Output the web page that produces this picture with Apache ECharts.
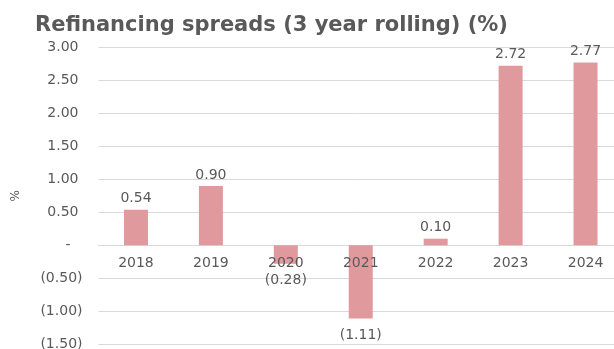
<!DOCTYPE html>
<html>
<head>
<meta charset="utf-8">
<script src="https://cdn.jsdelivr.net/npm/echarts@6/dist/echarts.min.js"></script>
<style>
  html, body { margin: 0; padding: 0; background: #fff; }
  #chart { width: 614px; height: 349px; }
</style>
</head>
<body>
<div id="chart"></div>
<script>
// Refinancing spreads, 3-year rolling, in percent
const years = ['2018', '2019', '2020', '2021', '2022', '2023', '2024'];
const spreads = [0.54, 0.90, -0.28, -1.11, 0.10, 2.72, 2.77];

// Accounting-style number: negatives in parentheses, zero as a dash
function fmt(v) {
  if (Math.abs(v) < 1e-9) return '-';
  const s = Math.abs(v).toFixed(2);
  return v < 0 ? '(' + s + ')' : s;
}

// Same format for the value axis, with positives and the dash kept
// clear of the closing-parenthesis column
function axisFmt(v) {
  if (Math.abs(v) < 1e-9) return '{z|-}';
  return v < 0 ? fmt(v) : '{p|' + fmt(v) + '}';
}

const textColor = '#595959';
const font = '"DejaVu Sans", sans-serif';

// value axis range: zero sits 99px above the plot bottom
const yMin = -1.5, yMax = 3;
const plotTop = 47.3, plotHeight = 297;
const zeroOffset = plotHeight * (0 - yMin) / (yMax - yMin);

const chart = echarts.init(document.getElementById('chart'), null, { renderer: 'canvas' });
chart.setOption({
  animation: false,
  title: {
    text: 'Refinancing spreads (3 year rolling) (%)',
    left: 30,
    top: 10,
    textStyle: { fontFamily: font, fontSize: 21, fontWeight: 'bold', color: textColor }
  },
  grid: {
    left: 98.5, top: plotTop, width: 524.5, height: plotHeight,
    containLabel: false, outerBoundsMode: 'none'
  },
  xAxis: [{
    // baseline drawn through zero
    type: 'category',
    data: years,
    axisLine: { onZero: true, lineStyle: { color: '#d9d9d9', width: 1 } },
    axisTick: { show: false },
    axisLabel: { show: false }
  }, {
    // year labels sitting just under the zero line, above the bars
    type: 'category',
    data: years,
    position: 'bottom',
    offset: -zeroOffset,
    z: 10,
    axisLine: { show: false },
    axisTick: { show: false },
    axisLabel: { color: textColor, fontFamily: font, fontSize: 14, margin: 11 }
  }],
  yAxis: {
    type: 'value',
    min: yMin,
    max: yMax,
    interval: 0.5,
    name: '%',
    nameLocation: 'middle',
    nameGap: 77,
    nameRotate: 90,
    nameTextStyle: { color: textColor, fontFamily: font, fontSize: 12 },
    axisLine: { show: false },
    axisTick: { show: false },
    splitLine: { lineStyle: { color: '#d9d9d9', width: 1 } },
    axisLabel: {
      color: textColor, fontFamily: font, fontSize: 14, margin: 16,
      formatter: axisFmt,
      rich: {
        p: { fontFamily: font, fontSize: 14, color: textColor, padding: [0, 4, 0, 0] },
        z: { fontFamily: font, fontSize: 14, color: textColor, padding: [0, 12, 0, 0] }
      }
    }
  },
  series: [{
    type: 'bar',
    data: spreads,
    barWidth: 24,
    itemStyle: { color: '#e09a9d' },
    label: {
      show: true,
      position: 'outside',
      distance: 7,
      offset: [0, 3],
      color: textColor,
      fontFamily: font,
      fontSize: 14,
      formatter: p => fmt(p.value)
    }
  }]
});
</script>
</body>
</html>
